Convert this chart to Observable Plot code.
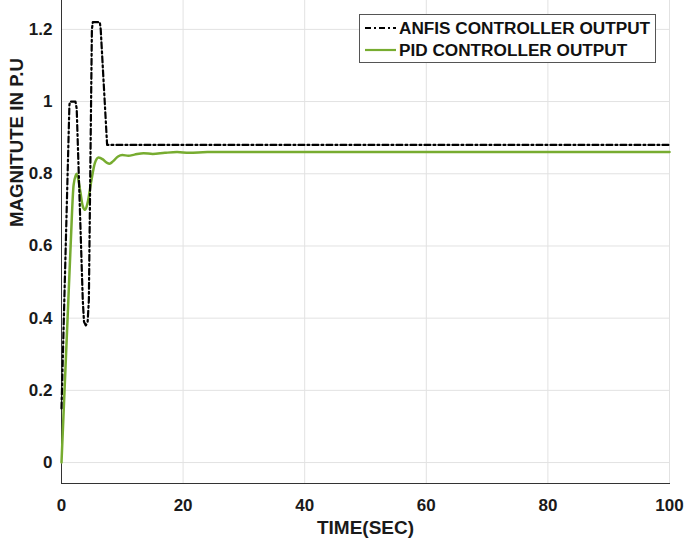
<!DOCTYPE html>
<html>
<head>
<meta charset="utf-8">
<script src="https://cdn.jsdelivr.net/npm/d3@7"></script>
<script src="https://cdn.jsdelivr.net/npm/@observablehq/plot@0.6"></script>
<style>
  html, body { margin: 0; padding: 0; background: #fff; }
  #wrap { position: relative; width: 685px; height: 546px; font-family: "Liberation Sans", Arial, Helvetica, sans-serif; }
  #legend { position: absolute; left: 359px; top: 14px; width: 297px; height: 49px; border: 1px solid #555; background: #fff; box-sizing: border-box; }
  .row { position: absolute; left: 5px; height: 20px; display: flex; align-items: center; font-weight: bold; font-size: 17.2px; color: #111; white-space: nowrap; }
  .row svg { margin-right: 3px; }
</style>
</head>
<body>
<div id="wrap"></div>
<script>
// ---- data ----
const anfisTime = [0, 1.3, 1.4, 2.3, 2.5, 3.5, 3.7, 4.0, 4.3, 4.5, 5.0, 5.15, 6.3, 6.45, 7.5, 100];
const anfisValue = [0.15, 0.99, 1.0, 1.0, 0.98, 0.45, 0.39, 0.38, 0.39, 0.45, 1.2, 1.22, 1.22, 1.2, 0.88, 0.88];

const pidTime = [0, 0.5, 1.0, 1.5, 2.0, 2.5, 2.8, 3.1, 3.5, 3.9, 4.3, 4.9, 5.5, 6.1, 6.8, 7.5, 7.9, 8.5, 9.3, 10, 11, 12, 13.5, 15, 17, 19, 21, 24, 30, 40, 100];
const pidValue = [0, 0.2, 0.4, 0.6, 0.77, 0.80, 0.78, 0.75, 0.71, 0.70, 0.72, 0.78, 0.83, 0.845, 0.84, 0.83, 0.828, 0.835, 0.848, 0.852, 0.85, 0.853, 0.857, 0.855, 0.858, 0.86, 0.858, 0.86, 0.86, 0.86, 0.86];

const xTicks = [0, 20, 40, 60, 80, 100];
const yTicks = [0, 0.2, 0.4, 0.6, 0.8, 1, 1.2];
const seriesNames = ["ANFIS CONTROLLER OUTPUT", "PID CONTROLLER OUTPUT"];
const xLabel = "TIME(SEC)";
const yLabel = "MAGNITUTE IN P.U";

const anfis = anfisTime.map((t, i) => ({t, v: anfisValue[i]}));
const pid = pidTime.map((t, i) => ({t, v: pidValue[i]}));

const green = "#77ac30";
const txt = "#1a1a1a";
const fontFam = "'Liberation Sans', Arial, Helvetica, sans-serif";

const chart = Plot.plot({
  width: 685,
  height: 546,
  marginLeft: 61,
  marginRight: 16,
  marginTop: 0,
  marginBottom: 63,
  style: {fontFamily: fontFam, background: "#fff", color: txt},
  x: {domain: [0, 100]},
  y: {domain: [-0.058, 1.28]},
  marks: [
    Plot.gridX(xTicks, {stroke: "#e2e2e2", strokeOpacity: 1}),
    Plot.gridY(yTicks, {stroke: "#e2e2e2", strokeOpacity: 1}),
    Plot.axisX(xTicks, {tickSize: 0, tickPadding: 15, fontSize: 17, fontWeight: "bold", label: null, fill: txt}),
    Plot.axisY(yTicks, {tickSize: 0, tickPadding: 9, fontSize: 17, fontWeight: "bold", label: null, fill: txt, tickFormat: d => String(d)}),
    Plot.frame({anchor: "left", stroke: "#333"}),
    Plot.frame({anchor: "bottom", stroke: "#333"}),
    Plot.line(pid, {x: "t", y: "v", stroke: green, strokeWidth: 2.5, curve: "monotone-x"}),
    Plot.line(anfis, {x: "t", y: "v", stroke: "#000", strokeWidth: 2.2, strokeDasharray: "6,3,2,3"}),
    Plot.text([xLabel], {text: d => d, frameAnchor: "bottom", dy: 50, fontSize: 19, fontWeight: "bold", fill: txt}),
    Plot.text([yLabel], {text: d => d, frameAnchor: "left", dx: -44, dy: -15, rotate: -90, fontSize: 18.7, fontWeight: "bold", fill: txt})
  ]
});

const wrap = document.getElementById("wrap");
wrap.appendChild(chart);

const legend = document.createElement("div");
legend.id = "legend";
const styles = [{stroke: "#000", dash: "6,3,2,3"}, {stroke: green, dash: null}];
seriesNames.forEach((name, i) => {
  const row = document.createElement("div");
  row.className = "row";
  row.style.top = (i === 0 ? 3 : 25) + "px";
  const s = styles[i];
  row.innerHTML = `<svg width="31" height="6"><line x1="0" y1="3" x2="31" y2="3" stroke="${s.stroke}" stroke-width="2.2" ${s.dash ? `stroke-dasharray="${s.dash}"` : ""}/></svg><span>${name}</span>`;
  legend.appendChild(row);
});
wrap.appendChild(legend);
</script>
</body>
</html>
